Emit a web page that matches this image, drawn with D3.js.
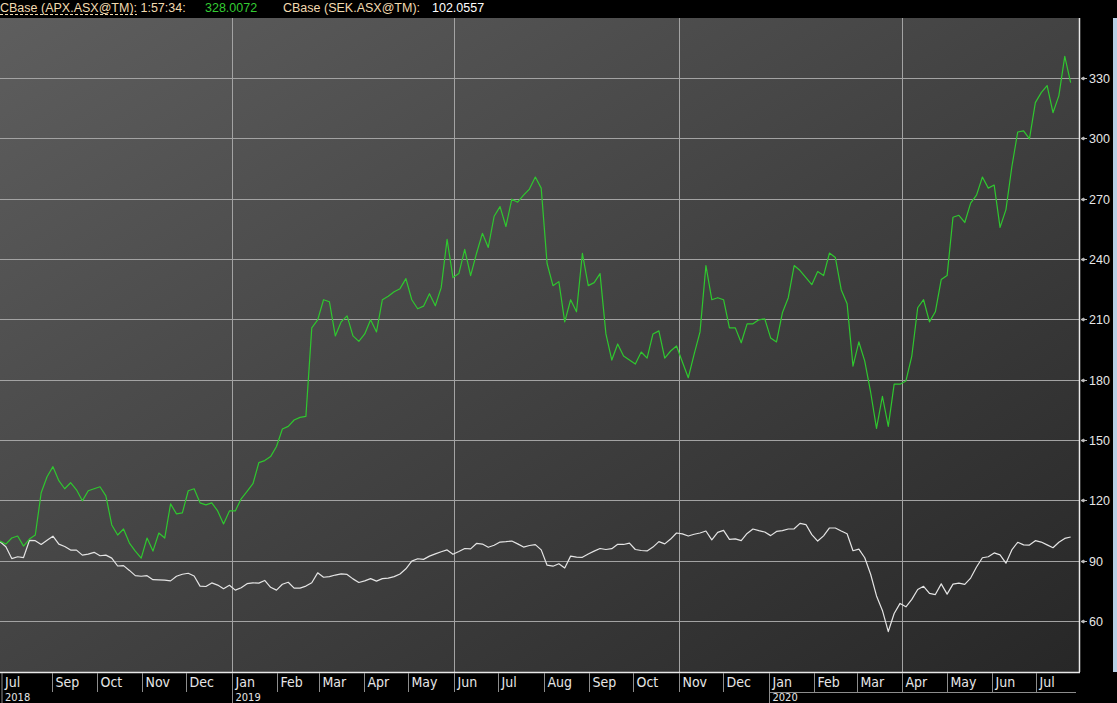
<!DOCTYPE html>
<html>
<head>
<meta charset="utf-8">
<script src="https://cdn.jsdelivr.net/npm/d3@7"></script>
<style>
  html, body { margin: 0; padding: 0; background: #000; overflow: hidden; }
  svg { display: block; }
</style>
</head>
<body>
<div id="container"></div>
<script>
// Size of the page and of the plot frame
const width = 1117;
const height = 703;
const plotTop = 18;
const plotBottom = 672;
const plotRight = 1079;

// Sampling of both series: one reading every 4 calendar days
const sampleStart = "2018-07-27";
const sampleStepDays = 4;
const domainStart = "2018-07-27";
const domainEnd = "2020-07-29";

// CBase (APX.ASX@TM), rebased to 100
const apxValues = [
  100, 98.5, 101.5, 102.5, 97.5, 101, 103, 124, 132, 137,
  130, 126, 129, 125.5, 120, 125, 126, 127, 122.5, 108,
  103, 106, 99, 95, 91.5, 101.5, 95, 104, 101.5, 118.5,
  113.5, 114, 125, 126, 119, 118, 119, 115, 108.5, 115,
  115, 121, 124.7, 128.5, 139, 140, 142, 147, 155.7, 157,
  160.2, 161.5, 162, 206, 210, 220, 219, 202, 209, 212,
  202, 199.3, 203, 210, 204, 220, 221.7, 224, 225.5, 230.5,
  220, 215.5, 216.8, 223, 217, 226, 250, 231, 233, 245,
  232, 243, 253, 246, 261.5, 266.3, 256.4, 270, 268.5, 272,
  275, 281, 275.5, 238, 227, 229, 209, 220, 214, 243,
  227, 228.5, 233, 203, 190, 198, 192, 190, 188, 194,
  191, 203, 204.5, 191, 194.5, 197, 189, 181.2, 193, 204,
  237, 220, 221, 220, 206, 206, 198.6, 208, 208, 210,
  210.5, 201, 199, 213.5, 221, 237, 234.5, 231, 227.5, 234,
  232, 243.2, 241, 225, 218, 187, 199, 189.5, 174, 156,
  172, 157, 178, 178, 179.6, 192, 216, 220, 209, 214,
  230, 232, 261, 262, 258.4, 268, 272, 281, 275.5, 277,
  256, 264.8, 286, 303.4, 304, 300, 318, 323, 326.5, 313,
  321.5, 341, 328
];

// CBase (SEK.ASX@TM), rebased to 100
const sekValues = [
  99.7, 97.2, 91.3, 92.2, 91.8, 100.3, 100.2, 98.3, 100.4, 102.4,
  98.5, 97.3, 95.5, 95.5, 93, 93.5, 94.4, 92.7, 93, 91.5,
  87.6, 87.8, 85.4, 82.8, 82.5, 82.8, 80.8, 80.7, 80.6, 80.2,
  82.5, 83.5, 84, 82.6, 77.6, 77.4, 79.2, 78.1, 76.3, 78,
  75.6, 76.8, 78.8, 79.2, 79.1, 80.4, 77, 75.6, 78.5, 79.5,
  76.6, 76.6, 77.6, 79.3, 84.2, 82, 82.3, 83.1, 83.7, 83.4,
  81.2, 79.4, 80.2, 81.3, 80.1, 81.3, 81.6, 82.3, 83.6, 86.2,
  90, 91.2, 90.9, 92.5, 93.6, 94.7, 95.6, 93.4, 94.8, 96.3,
  96.1, 98.8, 98.5, 96.9, 97.9, 99.5, 99.7, 100, 98.6, 97,
  97.8, 98.2, 95.6, 88, 87.5, 88.7, 86.6, 92.5, 92, 91.9,
  93.6, 95, 96.3, 95.8, 96.2, 98.4, 98.3, 99, 95.8, 95.3,
  95.1, 97, 99.7, 98.6, 101, 104, 103.6, 102.5, 103.4, 104,
  105, 100.6, 104.3, 105.3, 100.8, 101.1, 100.2, 103.8, 106, 105.2,
  104.5, 102.7, 104.8, 105.2, 106, 106.1, 108.8, 108.2, 103.2, 100,
  102.6, 106.5, 106.5, 105, 103.6, 95.2, 96, 91.7, 83.5, 72.7,
  65.5, 55, 64, 69, 67.3, 71, 75.9, 77.5, 74, 73.4,
  78.7, 73.6, 78.6, 79.1, 78.5, 81.6, 87.1, 91.7, 92.2, 94.1,
  93.1, 89, 95.6, 99.4, 98.1, 98, 100.2, 99.5, 98.1, 96.7,
  99.4, 101.3, 102
];

// Axis ticks and grid positions
const yTicks = [60, 90, 120, 150, 180, 210, 240, 270, 300, 330];
const gridMonths = ["2019-01-01", "2019-06-01", "2019-11-01", "2020-04-01"];
const yearStarts = ["2019-01-01", "2020-01-01"];

// Header readout
const headerItems = [
  { text: "CBase (APX.ASX@TM): 1:57:34:", x: 0, color: "#f2dbb0" },
  { text: "328.0072", x: 205, color: "#33cc33" },
  { text: "CBase (SEK.ASX@TM):", x: 283, color: "#f2dbb0" },
  { text: "102.0557", x: 432, color: "#ffffff" }
];

const parse = d3.timeParse("%Y-%m-%d");
const start = parse(sampleStart);
const apx = apxValues.map((v, i) => ({ date: d3.timeDay.offset(start, i * sampleStepDays), value: v }));
const sek = sekValues.map((v, i) => ({ date: d3.timeDay.offset(start, i * sampleStepDays), value: v }));

const svg = d3.select("#container")
    .append("svg")
    .attr("width", width)
    .attr("height", height);

// Scales
const x = d3.scaleTime()
    .domain([parse(domainStart), parse(domainEnd)])
    .range([0, 1078]);

const y = d3.scaleLinear()
    .domain([60, 330])
    .range([621.5, 78.5]);

const crisp = v => Math.floor(v) + 0.5;

// Background
svg.append("rect")
    .attr("width", width)
    .attr("height", height)
    .attr("fill", "#000");

const defs = svg.append("defs");
const grad = defs.append("linearGradient")
    .attr("id", "bg")
    .attr("x1", "0").attr("y1", "0")
    .attr("x2", "1").attr("y2", "1");
grad.append("stop").attr("offset", "0%").attr("stop-color", "#5e5e5e");
grad.append("stop").attr("offset", "100%").attr("stop-color", "#272727");

svg.append("rect")
    .attr("x", 0)
    .attr("y", plotTop)
    .attr("width", plotRight)
    .attr("height", plotBottom - plotTop)
    .attr("fill", "url(#bg)");

// Light blue strip on the far right
svg.append("rect")
    .attr("x", 1113)
    .attr("y", plotTop)
    .attr("width", 4)
    .attr("height", plotBottom - plotTop)
    .attr("fill", "#b8cfe6");

// Grid
const grid = svg.append("g")
    .attr("stroke", "#a3a3a3")
    .attr("stroke-width", 1);

grid.selectAll(".h")
    .data(yTicks)
    .enter()
    .append("line")
    .attr("x1", 0)
    .attr("x2", plotRight)
    .attr("y1", d => crisp(y(d)))
    .attr("y2", d => crisp(y(d)));

grid.selectAll(".v")
    .data(gridMonths)
    .enter()
    .append("line")
    .attr("x1", d => crisp(x(parse(d))))
    .attr("x2", d => crisp(x(parse(d))))
    .attr("y1", plotTop)
    .attr("y2", plotBottom);

// Series
const line = d3.line()
    .x(d => x(d.date))
    .y(d => y(d.value));

svg.append("path")
    .datum(sek)
    .attr("fill", "none")
    .attr("stroke", "#e4e4e4")
    .attr("stroke-width", 1.2)
    .attr("stroke-linejoin", "round")
    .attr("d", line);

svg.append("path")
    .datum(apx)
    .attr("fill", "none")
    .attr("stroke", "#2fc72f")
    .attr("stroke-width", 1.2)
    .attr("stroke-linejoin", "round")
    .attr("d", line);

// Frame borders
svg.append("line")
    .attr("x1", plotRight + 0.5).attr("x2", plotRight + 0.5)
    .attr("y1", plotTop).attr("y2", plotBottom)
    .attr("stroke", "#e8e8e8")
    .attr("stroke-width", 1.5);

svg.append("line")
    .attr("x1", 0).attr("x2", plotRight + 1)
    .attr("y1", plotBottom + 0.5).attr("y2", plotBottom + 0.5)
    .attr("stroke", "#e8e8e8")
    .attr("stroke-width", 1.5);

// Right axis: small arrows and labels
const yAxis = svg.append("g");

yAxis.selectAll("path")
    .data(yTicks)
    .enter()
    .append("path")
    .attr("d", d => {
        const yy = crisp(y(d));
        return `M1081,${yy}L1087,${yy}M1081,${yy}L1084,${yy - 1.5}L1084,${yy + 1.5}Z`;
    })
    .attr("stroke", "#bdbdbd")
    .attr("fill", "#bdbdbd")
    .attr("stroke-width", 1);

yAxis.selectAll("text")
    .data(yTicks)
    .enter()
    .append("text")
    .attr("x", 1089)
    .attr("y", d => y(d))
    .attr("dy", "0.36em")
    .attr("fill", "#e6e6e6")
    .style("font-family", "'Liberation Sans', Arial, sans-serif")
    .style("font-size", "12.5px")
    .text(d => d);

// Bottom axis: months row and years row
const monthTicks = d3.timeMonth.range(parse(domainStart), parse(domainEnd))
    .filter(d => x(d) > 20);
const monthLabels = [{ date: parse(domainStart), pos: 2 }]
    .concat(monthTicks.map(d => ({ date: d, pos: crisp(x(d)) })));

const xAxis = svg.append("g");

xAxis.selectAll("line.m")
    .data(monthLabels)
    .enter()
    .append("line")
    .attr("x1", d => d.pos)
    .attr("x2", d => d.pos)
    .attr("y1", plotBottom + 1)
    .attr("y2", 692)
    .attr("stroke", "#8c8c8c");

xAxis.selectAll("text.m")
    .data(monthLabels)
    .enter()
    .append("text")
    .attr("x", d => d.pos + 3)
    .attr("y", 687)
    .attr("fill", "#e6e6e6")
    .style("font-family", "'Liberation Sans Narrow', 'DejaVu Sans Condensed', sans-serif")
    .style("font-size", "14px")
    .text(d => d3.timeFormat("%b")(d.date));

const yearLabels = [{ date: parse(domainStart), pos: 2 }]
    .concat(yearStarts.map(d => ({ date: parse(d), pos: crisp(x(parse(d))) })));

// Line above the current year only
xAxis.append("line")
    .attr("x1", crisp(x(parse(yearStarts[1]))))
    .attr("x2", plotRight - 3)
    .attr("y1", 692.5)
    .attr("y2", 692.5)
    .attr("stroke", "#8c8c8c");

xAxis.selectAll("line.y")
    .data(yearLabels)
    .enter()
    .append("line")
    .attr("x1", d => d.pos)
    .attr("x2", d => d.pos)
    .attr("y1", 692)
    .attr("y2", height)
    .attr("stroke", "#8c8c8c");

xAxis.selectAll("text.y")
    .data(yearLabels)
    .enter()
    .append("text")
    .attr("x", d => d.pos + 3)
    .attr("y", 700.5)
    .attr("fill", "#e6e6e6")
    .style("font-family", "'Liberation Sans Narrow', 'DejaVu Sans Condensed', sans-serif")
    .style("font-size", "11px")
    .text(d => d3.timeFormat("%Y")(d.date));

// Header readout
svg.append("g")
    .selectAll("text")
    .data(headerItems)
    .enter()
    .append("text")
    .attr("x", d => d.x)
    .attr("y", 11.5)
    .attr("fill", d => d.color)
    .style("font-family", "'Liberation Sans', Arial, sans-serif")
    .style("font-size", "12.5px")
    .text(d => d.text);

// Dashed underline under the first label
svg.append("line")
    .attr("x1", 0)
    .attr("x2", 137)
    .attr("y1", 14.5)
    .attr("y2", 14.5)
    .attr("stroke", "#f2dbb0")
    .attr("stroke-dasharray", "3,2");
</script>
</body>
</html>
